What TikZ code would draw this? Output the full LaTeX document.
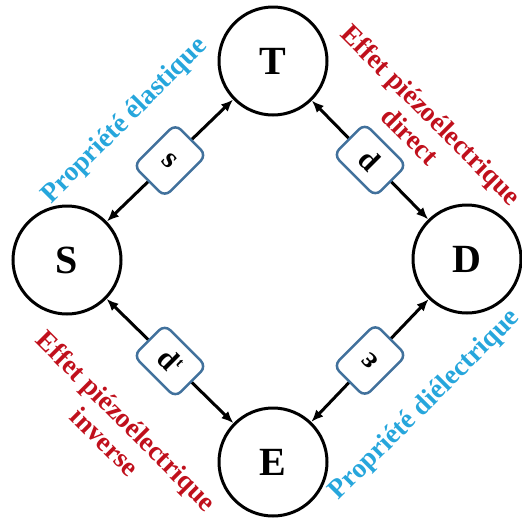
\documentclass[tikz,border=0pt]{standalone}
\usepackage{fontspec}
\setmainfont{Liberation Serif}
\usetikzlibrary{arrows.meta}
\definecolor{labelblue}{RGB}{38,166,220}
\definecolor{labelred}{RGB}{192,16,28}
\definecolor{boxedge}{RGB}{65,113,156}

\begin{document}
\begin{tikzpicture}[x=1pt,y=-1pt,
  state/.style={circle,draw,line width=3pt,minimum size=108pt,inner sep=0pt,
    font=\fontsize{40}{40}\selectfont\bfseries},
  coef/.style={draw=boxedge,fill=white,line width=2.5pt,rounded corners=8pt,
    inner sep=0pt,font=\fontsize{30}{30}\selectfont\bfseries},
  along/.style={coef,minimum width=59pt,minimum height=44pt},
  across/.style={coef,minimum width=44pt,minimum height=59pt},
  link/.style={line width=3pt,
    {Latex[length=12pt,width=10pt]}-{Latex[length=12pt,width=10pt]}},
  lab/.style={font=\fontsize{27.5}{30}\selectfont\bfseries,align=center,inner sep=0pt}]

\useasboundingbox (0,0) rectangle (522,517);

% state variables
\node[state] (T) at (273,61)  {T};
\node[state] (S) at (67,260)  {S};
\node[state] (D) at (467,259) {D};
\node[state] (E) at (273,462) {E};

% coupling coefficients on the links
\draw[link] (S) -- node[across,rotate=-45] (cs) {s} (T);
\draw[link] (T) -- node[along,rotate=-45] (cd) {d} (D);
\draw[link] (S) -- node[along,rotate=-45] (cdt)
  {d\raisebox{0.4em}{\fontsize{14}{14}\selectfont t}} (E);
\draw[link] (E) -- node[across,rotate=135] (ce) {ε} (D);

% names of the effects
\node[lab,labelblue,rotate=45] (pel) at (125,121) {Propriété élastique};
\node[lab,labelred,rotate=-45] (epd) at (421,125) {Effet piézoélectrique\\direct};
\node[lab,labelred,rotate=-45] (epi) at (116,431) {Effet piézoélectrique\\inverse};
\node[lab,labelblue,rotate=45] (pdi) at (425,405) {Propriété diélectrique};
\end{tikzpicture}
\end{document}
